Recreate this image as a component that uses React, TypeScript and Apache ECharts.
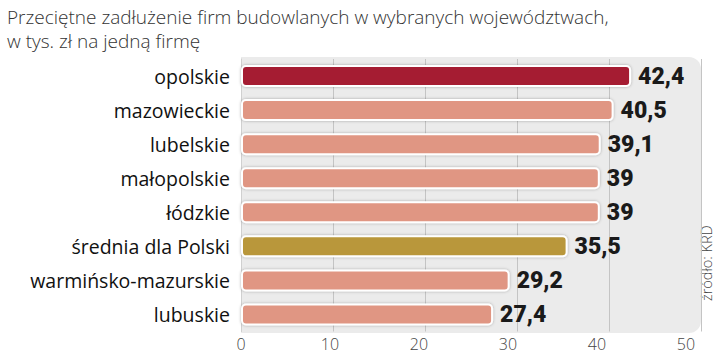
import React, { useEffect, useRef } from "react";
import * as echarts from "echarts";

const titleLines = [
  "Przeciętne zadłużenie firm budowlanych w wybranych województwach,",
  "w tys. zł na jedną firmę",
];
const regions = [
  "opolskie",
  "mazowieckie",
  "lubelskie",
  "małopolskie",
  "łódzkie",
  "średnia dla Polski",
  "warmińsko-mazurskie",
  "lubuskie",
];
const values = [42.4, 40.5, 39.1, 39, 39, 35.5, 29.2, 27.4];
const xTicks = [0, 10, 20, 30, 40, 50];
const sourceText = "źródło: KRD";

const HIGHLIGHT = "opolskie";
const AVERAGE = "średnia dla Polski";

export default function App() {
  const ref = useRef<HTMLDivElement>(null);
  useEffect(() => {
    if (!ref.current) return;
    const chart = echarts.init(ref.current, null, { renderer: "svg" });
    const colorFor = (r: string) =>
      r === HIGHLIGHT ? "#a51c31" : r === AVERAGE ? "#b9973a" : "#e09683";
    const xMax = xTicks[xTicks.length - 1];
    chart.setOption({
      animation: false,
      backgroundColor: "#ffffff",
      title: {
        text: titleLines.join("\n"),
        left: 2,
        top: 0,
        textStyle: {
          fontFamily: "Open Sans",
          fontWeight: 300,
          fontSize: 19,
          lineHeight: 24,
          color: "#333333",
        },
      },
      graphic: [
        {
          type: "rect",
          z: -10,
          silent: true,
          shape: { x: 241, y: 57, width: 460, height: 276, r: [0, 12, 12, 0] },
          style: { fill: "#ebebeb" },
        },
        {
          type: "text",
          x: 706,
          y: 301,
          rotation: Math.PI / 2,
          style: {
            text: sourceText,
            fontFamily: "Open Sans",
            fontWeight: 300,
            fontSize: 14.5,
            fill: "#444444",
            align: "left",
            verticalAlign: "middle",
          },
        },
      ],
      grid: { left: 241, right: 19, top: 59, bottom: 21.5, containLabel: false },
      xAxis: [
        {
          type: "value",
          min: 0,
          max: xMax,
          interval: 10,
          axisLabel: { show: false },
          axisLine: { show: false },
          axisTick: { show: false },
          splitLine: { show: true, lineStyle: { color: "#c4c4c4", width: 1 } },
        },
        {
          type: "value",
          position: "bottom",
          min: 0,
          max: 51.7,
          interval: 10,
          axisLine: { show: false },
          axisTick: { show: false },
          splitLine: { show: false },
          axisLabel: {
            margin: 4,
            fontFamily: "Open Sans",
            fontWeight: 300,
            fontSize: 16,
            color: "#444444",
            formatter: (v: number) => (xTicks.includes(v) ? String(v) : ""),
          },
        },
      ],
      yAxis: {
        type: "category",
        data: regions,
        inverse: true,
        axisTick: { show: false },
        axisLine: { show: true, lineStyle: { color: "#d0d0d0", width: 1 } },
        axisLabel: {
          margin: 11,
          fontFamily: "Open Sans",
          fontSize: 19.5,
          color: "#111111",
        },
      },
      series: [
        {
          type: "bar",
          xAxisIndex: 0,
          barWidth: 22,
          data: values.map((v, i) => ({
            value: v,
            itemStyle: { color: colorFor(regions[i]) },
          })),
          itemStyle: {
            borderColor: "#ffffff",
            borderWidth: 2,
            borderRadius: 4,
            shadowBlur: 3,
            shadowColor: "rgba(0,0,0,0.3)",
          },
          label: {
            show: true,
            position: "right",
            distance: 7,
            fontFamily: "Roboto",
            fontWeight: 900,
            fontSize: 23,
            color: "#1a1a1a",
            formatter: (p: any) => String(p.value).replace(".", ","),
          },
        },
      ],
    });
    return () => chart.dispose();
  }, []);
  return (
    <div
      ref={ref}
      style={{ position: "fixed", left: 0, top: 0, width: 720, height: 353 }}
    />
  );
}
